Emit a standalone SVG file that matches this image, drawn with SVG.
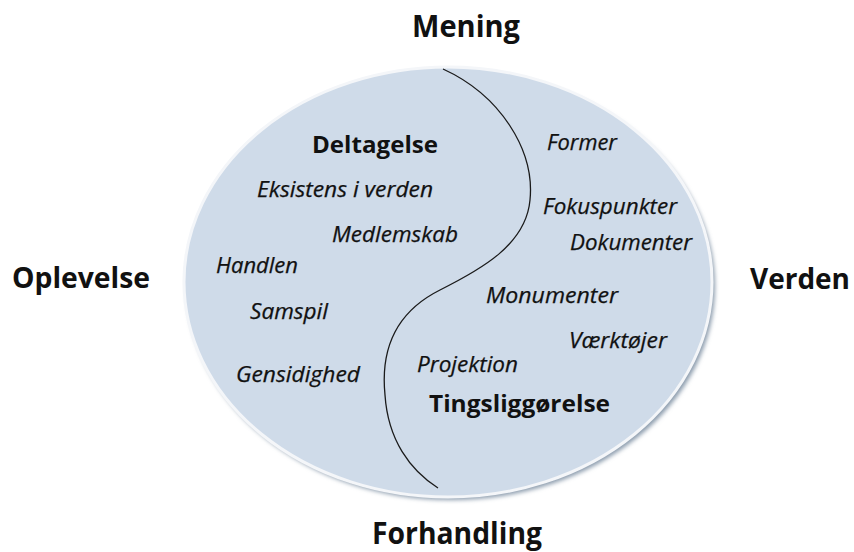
<svg xmlns="http://www.w3.org/2000/svg" width="854" height="552" viewBox="0 0 854 552">
<defs>
<filter id="blur" x="-10%" y="-10%" width="120%" height="120%"><feGaussianBlur stdDeviation="2"/></filter>
<style>
.t{font-family:"Open Sans","DejaVu Sans",sans-serif;fill:#111}
.b{font-weight:bold}
.i{font-style:italic;font-size:21px;stroke:#111;stroke-width:0.25}
</style>
</defs>
<rect width="854" height="552" fill="#ffffff"/>
<g id="circle">
<ellipse cx="451" cy="286" rx="264" ry="214" fill="#8c9cad" filter="url(#blur)"/>
<ellipse cx="448" cy="282" rx="264" ry="215" fill="#cfdbe9" stroke="#f4f6f9" stroke-width="3"/>
</g>
<g id="connectors">
<path d="M443,69 C500,95 535,150 530,200 C526,245 480,270 440,290 C400,310 380,345 385,395 C388,440 410,470 438,488" fill="none" stroke="#1a1a1a" stroke-width="1.3"/>
</g>
<g id="axes">
<text class="t b" x="412" y="37" font-size="30" textLength="108" lengthAdjust="spacingAndGlyphs">Mening</text>
<text class="t b" x="12" y="288" font-size="28" textLength="138" lengthAdjust="spacingAndGlyphs">Oplevelse</text>
<text class="t b" x="750" y="289" font-size="28" textLength="100" lengthAdjust="spacingAndGlyphs">Verden</text>
<text class="t b" x="372" y="544" font-size="30" textLength="170" lengthAdjust="spacingAndGlyphs">Forhandling</text>
</g>
<g id="deltagelse">
<text class="t b" x="312" y="153" font-size="23" textLength="126" lengthAdjust="spacingAndGlyphs">Deltagelse</text>
<text class="t i" x="257" y="197" textLength="176" lengthAdjust="spacingAndGlyphs">Eksistens i verden</text>
<text class="t i" x="332" y="242" textLength="126" lengthAdjust="spacingAndGlyphs">Medlemskab</text>
<text class="t i" x="216" y="273" textLength="82" lengthAdjust="spacingAndGlyphs">Handlen</text>
<text class="t i" x="250" y="319" textLength="78" lengthAdjust="spacingAndGlyphs">Samspil</text>
<text class="t i" x="236" y="382" textLength="124" lengthAdjust="spacingAndGlyphs">Gensidighed</text>
</g>
<g id="tingsliggorelse">
<text class="t i" x="547" y="150" textLength="70" lengthAdjust="spacingAndGlyphs">Former</text>
<text class="t i" x="543" y="214" textLength="134" lengthAdjust="spacingAndGlyphs">Fokuspunkter</text>
<text class="t i" x="570" y="250" textLength="122" lengthAdjust="spacingAndGlyphs">Dokumenter</text>
<text class="t i" x="486" y="303" textLength="132" lengthAdjust="spacingAndGlyphs">Monumenter</text>
<text class="t i" x="569" y="348" textLength="98" lengthAdjust="spacingAndGlyphs">Værktøjer</text>
<text class="t i" x="417" y="372" textLength="101" lengthAdjust="spacingAndGlyphs">Projektion</text>
<text class="t b" x="429" y="412" font-size="23" textLength="181" lengthAdjust="spacingAndGlyphs">Tingsliggørelse</text>
</g>
</svg>
